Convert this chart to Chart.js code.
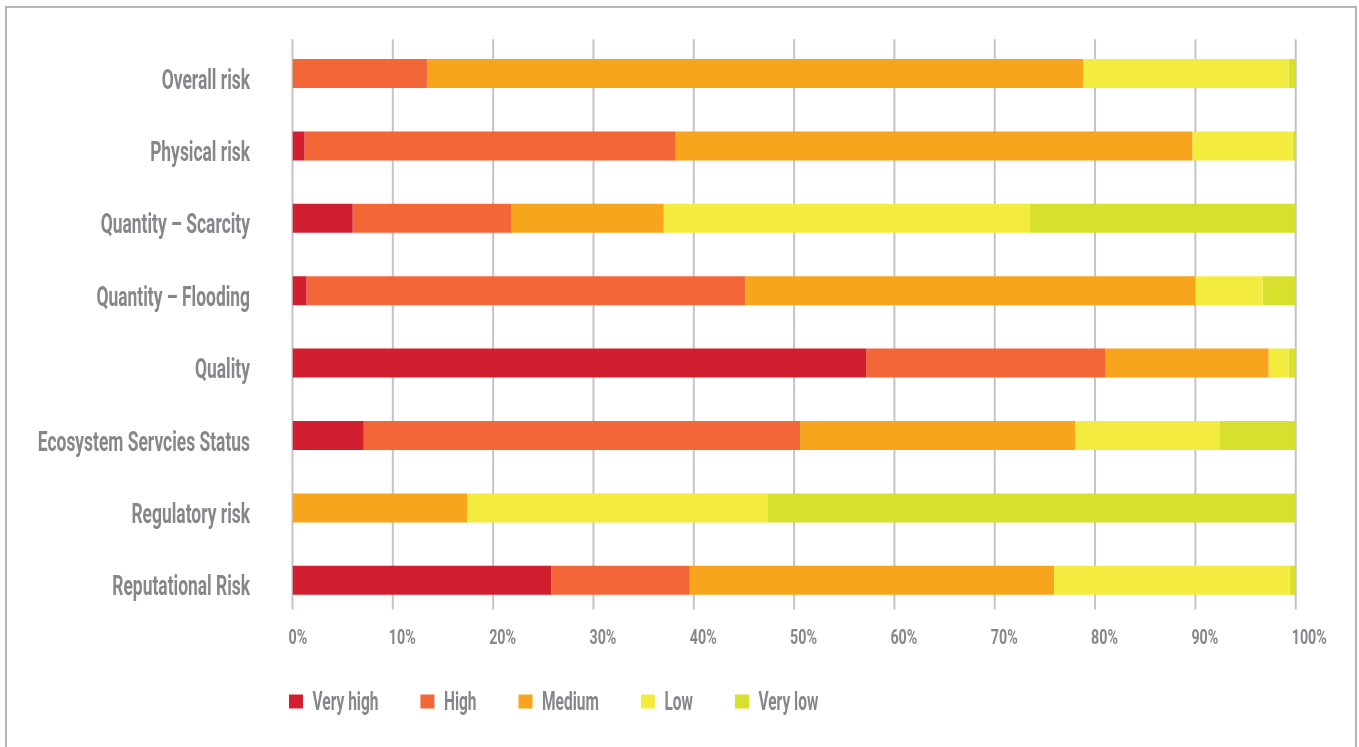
<!DOCTYPE html>
<html>
<head>
<meta charset="utf-8">
<script src="https://cdn.jsdelivr.net/npm/chart.js@4.4.1/dist/chart.umd.min.js"></script>
<style>
  html, body { margin: 0; padding: 0; background: #fff; overflow: hidden; }
  #wrap { position: relative; width: 1359px; height: 747px; }
  #frame { position: absolute; left: 5px; top: 6px; width: 1348px; height: 800px; border: 2px solid #b5b5b5; pointer-events: none; }
  canvas { position: absolute; left: 0; top: 0; }
</style>
</head>
<body>
<div id="wrap">
  <canvas id="chart" width="1359" height="747"></canvas>
  <div id="frame"></div>
</div>
<script>
// ---- data ------------------------------------------------------------------
const CATEGORIES = [
  'Overall risk',
  'Physical risk',
  'Quantity – Scarcity',
  'Quantity – Flooding',
  'Quality',
  'Ecosystem Servcies Status',
  'Regulatory risk',
  'Reputational Risk',
];
const SERIES_NAMES = ['Very high', 'High', 'Medium', 'Low', 'Very low'];

// share of sites per risk level, percent
const VERY_HIGH = [0,    1.2,  6.0,  1.4,  57.2, 7.1,  0,    25.8];
const HIGH      = [13.4, 37.0, 15.8, 43.7, 23.8, 43.5, 0,    13.8];
const MEDIUM    = [65.4, 51.5, 15.2, 44.9, 16.3, 27.4, 17.4, 36.3];
const LOW       = [20.5, 10.0, 36.5, 6.7,  2.0,  14.4, 30.0, 23.5];
const VERY_LOW  = [0.7,  0.3,  26.5, 3.3,  0.7,  7.6,  52.6, 0.6];

const X_MIN = 0;
const X_MAX = 100;
const X_STEP = 10;

// ---- styling ---------------------------------------------------------------
const COLORS    = ['#d21f30', '#f26638', '#f7a51d', '#f3ec3f', '#d6e02d'];
const GRID      = '#c4c4c4';
const TEXT_GREY = '#86878b';
const FONT      = 'Roboto, "Liberation Sans", sans-serif';

// draw a label horizontally condensed; returns drawn width
function squeezedText(ctx, text, x, y, size, squeeze, align) {
  ctx.save();
  ctx.font = `bold ${size}px ${FONT}`;
  ctx.fillStyle = TEXT_GREY;
  ctx.textBaseline = 'alphabetic';
  ctx.textAlign = 'left';
  const w = ctx.measureText(text).width * squeeze;
  const left = align === 'right' ? x - w : x;
  ctx.translate(left, y);
  ctx.scale(squeeze, 1);
  ctx.fillText(text, 0, 0);
  ctx.restore();
  return w;
}

// Vertical grid lines, stopping a little under the last bar
const gridPlugin = {
  id: 'shortGrid',
  beforeDatasetsDraw(chart) {
    const { ctx, chartArea, scales } = chart;
    ctx.save();
    ctx.strokeStyle = GRID;
    ctx.lineWidth = 2;
    scales.x.ticks.forEach(t => {
      const px = scales.x.getPixelForValue(t.value);
      ctx.beginPath();
      ctx.moveTo(px, chartArea.top + 2);
      ctx.lineTo(px, chartArea.bottom - 7);
      ctx.stroke();
    });
    ctx.restore();
  },
};

// Category names, percent labels and the legend row
const labelPlugin = {
  id: 'condensedLabels',
  afterDraw(chart) {
    const { ctx, chartArea, scales } = chart;

    chart.data.labels.forEach((name, i) => {
      const py = scales.y.getPixelForValue(i);
      squeezedText(ctx, name, chartArea.left - 42.5, py + 15, 27, 0.645, 'right');
    });

    scales.x.ticks.forEach(t => {
      const px = scales.x.getPixelForValue(t.value);
      squeezedText(ctx, t.value + '%', px - 4, chartArea.bottom + 27.5, 21, 0.68, 'left');
    });

    let x = chartArea.left - 3.5;
    const top = chartArea.bottom + 78;
    chart.data.datasets.forEach(ds => {
      ctx.fillStyle = ds.backgroundColor;
      ctx.fillRect(x, top, 14, 14);
      const w = squeezedText(ctx, ds.label, x + 23.5, top + 15, 25, 0.62, 'left');
      x += 23.5 + w + 42;
    });
  },
};

const seriesValues = [VERY_HIGH, HIGH, MEDIUM, LOW, VERY_LOW];

new Chart(document.getElementById('chart'), {
  type: 'bar',
  data: {
    labels: CATEGORIES,
    datasets: SERIES_NAMES.map((name, i) => ({
      label: name,
      data: seriesValues[i],
      backgroundColor: COLORS[i],
      borderWidth: 0,
      barPercentage: 0.4,
      categoryPercentage: 1,
    })),
  },
  plugins: [gridPlugin, labelPlugin],
  options: {
    indexAxis: 'y',
    responsive: false,
    animation: false,
    layout: { padding: { left: 292.5, right: 63.3, top: 37.3, bottom: 130.5 } },
    plugins: {
      legend: { display: false },
      tooltip: { enabled: false },
    },
    scales: {
      x: {
        stacked: true,
        min: X_MIN, max: X_MAX,
        ticks: { display: false, stepSize: X_STEP },
        grid: { display: false, drawTicks: false },
        border: { display: false },
      },
      y: {
        stacked: true,
        ticks: { display: false },
        grid: { display: false, drawTicks: false },
        border: { display: false },
      },
    },
  },
});
</script>
</body>
</html>
